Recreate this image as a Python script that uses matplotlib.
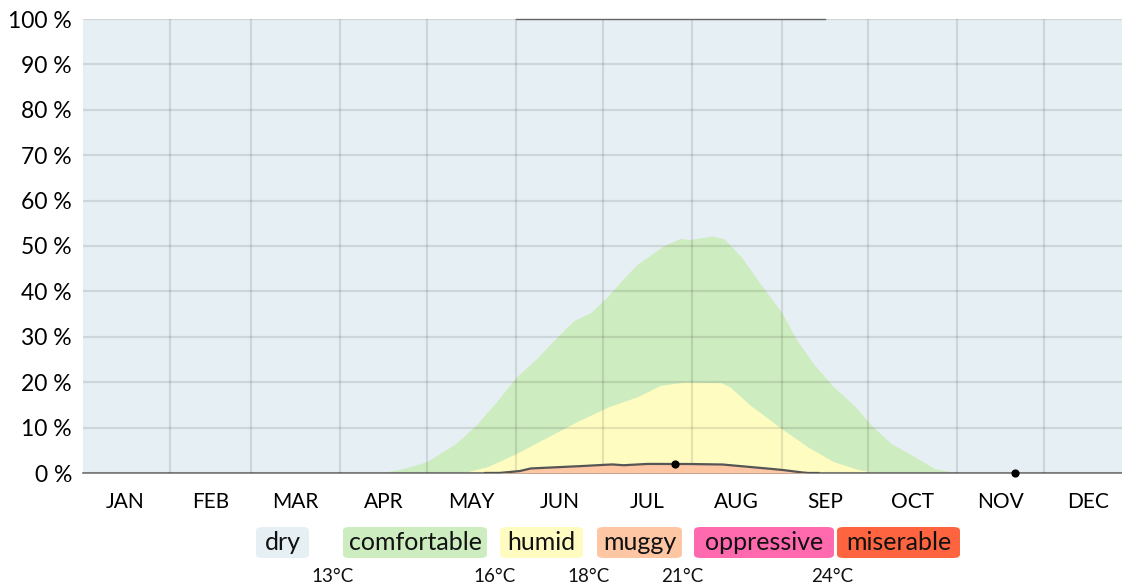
"""Humidity comfort levels through the year, stacked percentage bands."""

import matplotlib
matplotlib.use("Agg")
import matplotlib.pyplot as plt
from matplotlib.patches import FancyBboxPatch
import numpy as np

plt.rcParams["font.family"] = ["Lato", "DejaVu Sans"]

MONTHS = ["JAN", "FEB", "MAR", "APR", "MAY", "JUN",
          "JUL", "AUG", "SEP", "OCT", "NOV", "DEC"]
MONTH_DAYS = [31, 28, 31, 30, 31, 30, 31, 31, 30, 31, 30, 31]

# day of year -> % of time muggy or worse
MUGGY_DAY = [0, 145, 152, 156, 170, 184, 188, 196, 206, 208, 222, 231, 243, 249, 252, 366]
MUGGY_PCT = [0, 0, 0.4, 1.0, 1.4, 1.9, 1.7, 2.0, 2.0, 2.0, 1.9, 1.4, 0.7, 0.2, 0, 0]

# % humid or worse
HUMID_DAY = [0, 132, 141, 151, 163, 172, 183, 193, 201, 209, 222, 225, 232,
             243, 252, 261, 270, 277, 366]
HUMID_PCT = [0, 0, 1.4, 4.3, 8.3, 11.3, 14.6, 16.8, 19.3, 20.0, 19.9, 19.0, 15.0,
             9.8, 5.8, 2.5, 0.7, 0, 0]

# % comfortable or worse
COMF_DAY = [0, 104, 112, 120, 130, 137, 144, 151, 158, 164, 171, 177, 183, 188,
            193, 198, 202, 208, 211, 219, 223, 229, 236, 243, 248, 254, 261, 268,
            274, 281, 288, 296, 304, 366]
COMF_PCT = [0, 0, 1.0, 2.5, 6.5, 10.5, 15.6, 21.1, 25.2, 29.2, 33.6, 35.4, 39.1, 42.7,
            46.0, 48.2, 50.0, 51.7, 51.4, 52.2, 51.6, 47.6, 41.4, 35.4, 29.6, 24.1,
            19.0, 15.0, 10.6, 6.5, 4.0, 1.0, 0, 0]

MARK_DAY = [206, 324]
MARK_PCT = [2.0, 0.0]

LEVELS = ["dry", "comfortable", "humid", "muggy", "oppressive", "miserable"]
LEVEL_COLORS = ["#e6eff3", "#cdecbf", "#fffcc2", "#ffc6a4", "#ff69ad", "#ff6440"]
THRESHOLDS = ["13°C", "16°C", "18°C", "21°C", "24°C"]

days = np.linspace(0, 366, 1465)
muggy = np.interp(days, MUGGY_DAY, MUGGY_PCT)
humid = np.interp(days, HUMID_DAY, HUMID_PCT)
comf = np.interp(days, COMF_DAY, COMF_PCT)

fig = plt.figure(figsize=(11.22, 5.87), dpi=100)
ax = fig.add_axes([83 / 1122, 1 - 473 / 587, 1 - 83 / 1122, (473 - 19) / 587])
ax.set_facecolor(LEVEL_COLORS[0])

ax.fill_between(days, 0, comf, color=LEVEL_COLORS[1], lw=0, zorder=1)
ax.fill_between(days, 0, humid, color=LEVEL_COLORS[2], lw=0, zorder=2)
ax.fill_between(days, 0, muggy, color=LEVEL_COLORS[3], lw=0, zorder=3)
mask = (days > 140) & (days < 256)
ax.plot(days[mask], muggy[mask], color="#555555", lw=1.6, zorder=5)
ax.plot([151, 258], [100, 100], color="#666666", lw=1.0, zorder=5, clip_on=False)
ax.scatter(MARK_DAY, MARK_PCT, s=24, color="black", zorder=6, clip_on=False)

bounds = np.cumsum([0] + MONTH_DAYS)
mids = (bounds[:-1] + bounds[1:]) / 2
ax.set_xlim(0.7, 361.1)
ax.set_ylim(0, 100)
ax.set_xticks(bounds[1:-1])
ax.set_xticklabels([])
ax.set_xticks(mids, minor=True)
ax.set_xticklabels(MONTHS, minor=True)
ax.tick_params(axis="x", which="both", length=0, pad=14, labelsize=15)
ax.set_yticks(np.arange(0, 101, 10))
ax.set_yticklabels([f"{v} %" for v in range(0, 101, 10)])
ax.tick_params(axis="y", length=0, pad=8, labelsize=16.5)
ax.grid(True, which="major", color="black", alpha=0.1, lw=1.6, zorder=4)
ax.set_axisbelow(False)
for s in ["top", "right", "left"]:
    ax.spines[s].set_visible(False)
ax.spines["bottom"].set_color("#777777")
ax.spines["bottom"].set_linewidth(1.2)

# legend chips
box_x = [256, 343, 500, 597, 694, 837]
box_w = [53, 144, 83, 85, 140, 123]
for lab, col, x0, w in zip(LEVELS, LEVEL_COLORS, box_x, box_w):
    fx, fw = x0 / 1122, w / 1122
    fy, fh = 1 - 558 / 587, 31 / 587
    fig.patches.append(FancyBboxPatch((fx, fy), fw, fh,
                                      boxstyle="round,pad=0,rounding_size=0.006",
                                      transform=fig.transFigure, fc=col, ec="none"))
    fig.text(fx + fw / 2, fy + fh / 2, lab, ha="center", va="center",
             fontsize=18, color="#111111")

temp_x = [333, 495, 589, 682, 832]
for t, x in zip(THRESHOLDS, temp_x):
    fig.text(x / 1122, 1 - 576 / 587, t, ha="center", va="center",
             fontsize=13.5, color="#111111")

fig.savefig("out.png", dpi=100, facecolor="white")
